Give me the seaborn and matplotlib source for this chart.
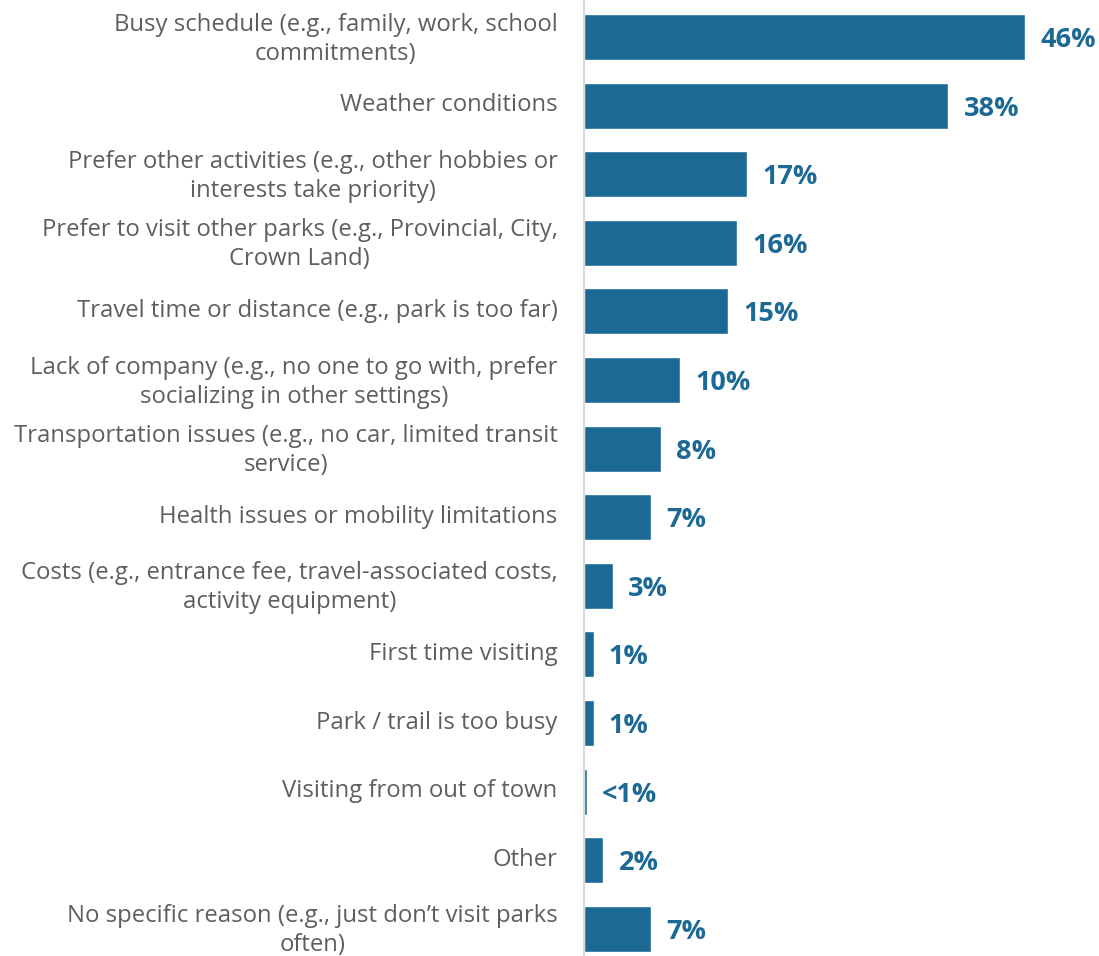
import matplotlib
matplotlib.use("Agg")
import matplotlib.pyplot as plt
import matplotlib.transforms as mtransforms
import seaborn as sns
import pandas as pd

categories = [
    "Busy schedule (e.g., family, work, school\ncommitments)",
    "Weather conditions",
    "Prefer other activities (e.g., other hobbies or\ninterests take priority)",
    "Prefer to visit other parks (e.g., Provincial, City,\nCrown Land)",
    "Travel time or distance (e.g., park is too far)",
    "Lack of company (e.g., no one to go with, prefer\nsocializing in other settings)",
    "Transportation issues (e.g., no car, limited transit\nservice)",
    "Health issues or mobility limitations",
    "Costs (e.g., entrance fee, travel-associated costs,\nactivity equipment)",
    "First time visiting",
    "Park / trail is too busy",
    "Visiting from out of town",
    "Other",
    "No specific reason (e.g., just don\u2019t visit parks\noften)",
]
values = [46, 38, 17, 16, 15, 10, 8, 7, 3, 1, 1, 0.3, 2, 7]
value_labels = ["46%", "38%", "17%", "16%", "15%", "10%", "8%", "7%", "3%", "1%", "1%", "<1%", "2%", "7%"]

BAR = "#1D6996"
TXT = "#5E5E5E"

sns.set_theme(style="white")
plt.rcParams["font.family"] = ["Open Sans", "DejaVu Sans"]

df = pd.DataFrame({"cat": categories, "val": values})

fig = plt.figure(figsize=(10.99, 9.56), dpi=100)
ax = fig.add_axes([584 / 1099, 0, 500 / 1099, 1])
sns.barplot(data=df, x="val", y="cat", color=BAR, saturation=1, width=0.67, ax=ax)

# scale: 46% spans 584 -> 1025 px
ax.set_xlim(0, 500 / ((1025 - 584) / 46))
ax.set_ylim((956 - 37) / 68.6, -37 / 68.6)

anns = ax.bar_label(ax.containers[0], labels=value_labels, padding=11,
                    color=BAR, fontsize=19.5, fontweight="bold")
for a in anns:
    a.set_va("center_baseline")

ax.set_xlabel("")
ax.set_ylabel("")
ax.set_xticks([])
ax.tick_params(axis="y", length=0, pad=19, labelsize=17.2, labelcolor=TXT)
shift = mtransforms.ScaledTranslation(0, 3.5 / 100, fig.dpi_scale_trans)
for lab in ax.get_yticklabels():
    lab.set_multialignment("center")
    lab.set_linespacing(1.28)
    lab.set_transform(lab.get_transform() + shift)

for s in ["top", "right", "bottom"]:
    ax.spines[s].set_visible(False)
ax.spines["left"].set_color("#D9D9D9")
ax.spines["left"].set_linewidth(1.5)

fig.savefig("out.png", dpi=100)
